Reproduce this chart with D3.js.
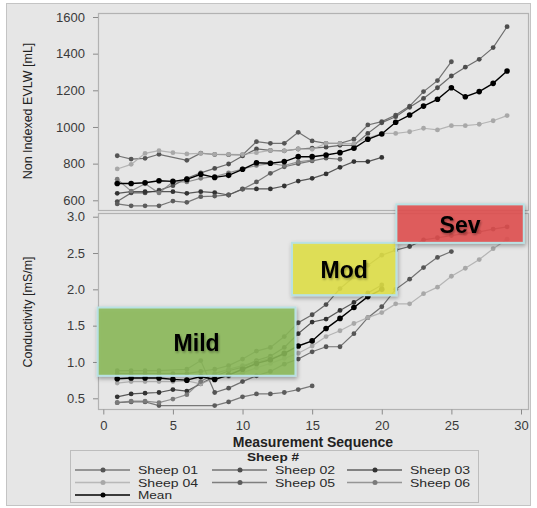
<!DOCTYPE html>
<html>
<head>
<meta charset="utf-8">
<script src="https://cdn.jsdelivr.net/npm/d3@7/dist/d3.min.js"></script>
<style>
body { margin: 0; background: #fff; }
text { font-family: "Liberation Sans", Arial, Helvetica, sans-serif; }
</style>
</head>
<body>
<script>
// ---------- data (x = measurement 1, 2, 3 ...; null = no point) ----------
var sheepNames = ["Sheep 01", "Sheep 02", "Sheep 03", "Sheep 04", "Sheep 05", "Sheep 06", "Mean"];
var sheepColors = ["#555", "#4d4d4d", "#333", "#a8a8a8", "#5c5c5c", "#7a7a7a", "#000"];

var evlw01 = [843, 825, 829, 851, null, 818, 857, 850, 849, 848, 920, 911, 911, 971, 924, 911, 911, 933, 1011, 1029, 1065, 1114, 1193, 1253, 1356];
var evlw02 = [593, 640, 640, 655, 680, 720, 750, 774, 798, 842, 880, 872, 870, 880, 885, 890, 900, 900, 965, 1023, 1056, 1107, 1156, 1214, 1278, 1326, 1369, 1433, 1547];
var evlw03 = [638, 647, 647, 647, 647, 638, 647, 642, 629, 662, 662, 662, 678, 705, 720, 744, 780, 811, 811, 834];
var evlw04 = [771, 796, 856, 871, 860, 853, 856, 851, 851, 850, 860, 872, 870, 880, 878, 911, 910, 910, 940, 965, 965, 974, 993, 984, 1007, 1007, 1015, 1034, 1062];
var evlw05 = [580, 570, 570, 570, 596, 589, 620, 623, 629, 660, 700, 747, 783, 800, 815, 830, 824];
var evlw06 = [715, 650, 690, 640, 700, 700, 720, 730, 750, 771, 790, 800, 790, 810, 820];
var evlwMean = [692, 692, 696, 707, 703, 714, 742, 725, 736, 769, 805, 802, 811, 838, 838, 847, 860, 884, 933, 962, 1026, 1065, 1114, 1151, 1214, 1165, 1193, 1238, 1305];

var cond01 = [0.88, 0.88, 0.88, 0.88, null, 0.90, 1.02, 0.58, 0.64, 0.73, 0.81, 0.87, 0.97, 1.04, 1.14, 1.21, 1.21, 1.39, 1.61, 1.76, 2.00, 2.14, 2.30, 2.44, 2.52];
var cond02 = [0.84, 0.84, 0.84, 0.84, 0.84, 0.84, 0.87, 0.90, 0.95, 1.04, 1.15, 1.20, 1.35, 1.54, 1.65, 1.79, 2.01, 2.17, 2.33, 2.47, 2.54, 2.59, 2.68, 2.71, 2.74, 2.77, 2.79, 2.83, 2.86];
var cond03 = [0.52, 0.56, 0.57, 0.58, 0.62, 0.60, 0.70, 0.80, 0.88, 0.93, 1.02, 1.08, 1.20, 1.39, 1.55, 1.59, 1.71, 1.82, 1.95, 2.06];
var cond04 = [0.71, 0.73, 0.73, 0.73, 0.73, 0.74, 0.70, 0.78, 0.80, 0.85, 0.92, 0.98, 1.05, 1.12, 1.22, 1.35, 1.43, 1.53, 1.61, 1.68, 1.80, 1.80, 1.94, 2.03, 2.18, 2.29, 2.41, 2.56, 2.69];
var cond05 = [0.44, 0.45, 0.45, 0.40, null, null, null, 0.40, 0.45, 0.52, 0.56, 0.56, 0.58, 0.62, 0.67];
var cond06 = [0.44, 0.46, 0.46, 0.44, 0.49, 0.55, 0.73, 0.84, 0.90, 0.95, 1.00, 1.05, 1.10];
var condMean = [0.77, 0.78, 0.78, 0.78, 0.76, 0.75, 0.80, 0.76, 0.82, 0.90, 0.98, 1.03, 1.12, 1.22, 1.29, 1.46, 1.60, 1.75, 1.90, 2.00];

var xTicks = [0, 5, 10, 15, 20, 25, 30];
var evlwTicks = [600, 800, 1000, 1200, 1400, 1600];
var condTicks = [0.5, 1.0, 1.5, 2.0, 2.5, 3.0];

// severity zones: x from/to (measurement), y from/to (conductivity)
var zoneNames = ["Mild", "Mod", "Sev"];
var zoneColors = ["rgb(140,186,88)", "rgb(226,226,72)", "rgb(226,78,78)"];
var zoneX = [[-0.4, 13.8], [13.55, 21.05], [21.05, 30.2]];
var zoneY = [[0.81, 1.75], [1.92, 2.64], [2.64, 3.17]];

var evlwSeries = [evlw01, evlw02, evlw03, evlw04, evlw05, evlw06, evlwMean];
var condSeries = [cond01, cond02, cond03, cond04, cond05, cond06, condMean];

// ---------- layout ----------
var W = 537, H = 508;
var plotL = 98, plotR = 528;
var topT = 13, topB = 210;
var botT = 213, botB = 409;

var svg = d3.select("body").append("svg")
	.attr("width", W)
	.attr("height", H);

var defs = svg.append("defs");
defs.append("filter")
	.attr("id", "sombra")
	.attr("x", "-10%").attr("y", "-20%")
	.attr("width", "125%").attr("height", "150%")
	.append("feDropShadow")
	.attr("dx", 1).attr("dy", 2)
	.attr("stdDeviation", 2)
	.attr("flood-color", "#000")
	.attr("flood-opacity", 0.35);
defs.append("filter")
	.attr("id", "sombraTexto")
	.append("feDropShadow")
	.attr("dx", 1).attr("dy", 1.5)
	.attr("stdDeviation", 1)
	.attr("flood-color", "#000")
	.attr("flood-opacity", 0.35);

svg.append("rect")
	.attr("x", 6.5).attr("y", 3.5)
	.attr("width", 524).attr("height", 502)
	.attr("fill", "#e6e6e6")
	.attr("stroke", "#c4c4c4");

var xScale = d3.scaleLinear().domain([0, 30]).range([103.3, 521]);
var yTop = d3.scaleLinear().domain([600, 1600]).range([200.3, 17]);
var yBot = d3.scaleLinear().domain([0.5, 3.0]).range([398.3, 216.7]);

// ---------- frames and axes ----------
[[topT, topB], [botT, botB]].forEach(function (p) {
	svg.append("rect")
		.attr("x", plotL + 0.5).attr("y", p[0] + 0.5)
		.attr("width", plotR - plotL).attr("height", p[1] - p[0])
		.attr("fill", "none")
		.attr("stroke", "#b2b2b2")
		.attr("stroke-width", 1.2);
});

function estiloEje(g) {
	g.select(".domain").remove();
	g.selectAll(".tick line").attr("stroke", "#8a8a8a");
	g.selectAll(".tick text")
		.attr("fill", "#3a3a3a")
		.style("font-size", "13px")
		.style("font-family", "'Liberation Sans', Arial, sans-serif");
}

svg.append("g")
	.attr("transform", "translate(" + plotL + ",0)")
	.call(d3.axisLeft(yTop).tickValues(evlwTicks).tickSize(5).tickPadding(8).tickFormat(d3.format("d")))
	.call(estiloEje);

svg.append("g")
	.attr("transform", "translate(" + plotL + ",0)")
	.call(d3.axisLeft(yBot).tickValues(condTicks).tickSize(5).tickPadding(8).tickFormat(d3.format(".1f")))
	.call(estiloEje);

svg.append("g")
	.attr("transform", "translate(0," + (botB + 0.5) + ")")
	.call(d3.axisBottom(xScale).tickValues(xTicks).tickSize(5).tickPadding(6))
	.call(estiloEje);

svg.append("text")
	.attr("transform", "translate(32,111) rotate(-90)")
	.attr("text-anchor", "middle")
	.attr("font-size", "12.5px")
	.attr("fill", "#222")
	.text("Non Indexed EVLW [mL]");

svg.append("text")
	.attr("transform", "translate(32,312) rotate(-90)")
	.attr("text-anchor", "middle")
	.attr("font-size", "12.5px")
	.attr("fill", "#222")
	.text("Conductivity [mS/m]");

svg.append("text")
	.attr("x", 313).attr("y", 447)
	.attr("text-anchor", "middle")
	.attr("font-size", "14px")
	.attr("font-weight", "bold")
	.attr("fill", "#222")
	.text("Measurement Sequence");

// ---------- lines ----------
function dibujarSeries(lista, yScale) {
	lista.forEach(function (vals, k) {
		var pts = vals.map(function (v, i) { return { x: i + 1, v: v }; })
			.filter(function (d) { return d.v != null; });
		var esMedia = sheepNames[k] == "Mean";
		var linea = d3.line()
			.x(function (d) { return xScale(d.x); })
			.y(function (d) { return yScale(d.v); });
		svg.append("path")
			.datum(pts)
			.attr("d", linea)
			.attr("fill", "none")
			.attr("stroke", sheepColors[k])
			.attr("stroke-opacity", esMedia ? 1 : 0.8)
			.attr("stroke-width", esMedia ? 1.4 : 1.2);
		svg.append("g").selectAll("circle")
			.data(pts)
			.enter()
			.append("circle")
			.attr("cx", function (d) { return xScale(d.x); })
			.attr("cy", function (d) { return yScale(d.v); })
			.attr("r", esMedia ? 2.8 : 2.4)
			.attr("fill", sheepColors[k]);
	});
}

// mean is the last series so it sits on top
dibujarSeries(evlwSeries, yTop);
dibujarSeries(condSeries, yBot);

// ---------- severity zones ----------
zoneNames.forEach(function (nombre, k) {
	var x0 = xScale(zoneX[k][0]), x1 = xScale(zoneX[k][1]);
	var y0 = yBot(zoneY[k][1]), y1 = yBot(zoneY[k][0]);
	svg.append("rect")
		.attr("x", x0).attr("y", y0)
		.attr("width", x1 - x0).attr("height", y1 - y0)
		.attr("fill", zoneColors[k])
		.attr("fill-opacity", 0.86)
		.attr("stroke", "#b9e1e3")
		.attr("stroke-width", 2)
		.attr("filter", "url(#sombra)");
	svg.append("text")
		.attr("x", (x0 + x1) / 2)
		.attr("y", (y0 + y1) / 2 + 9)
		.attr("text-anchor", "middle")
		.attr("font-size", "23px")
		.attr("font-weight", "bold")
		.attr("fill", "#000")
		.attr("filter", "url(#sombraTexto)")
		.text(nombre);
});

// ---------- legend ----------
var leg = svg.append("g");
leg.append("rect")
	.attr("x", 70.5).attr("y", 450.5)
	.attr("width", 408).attr("height", 52)
	.attr("fill", "none")
	.attr("stroke", "#bdbdbd");
leg.append("text")
	.attr("x", 273).attr("y", 460.5)
	.attr("text-anchor", "middle")
	.attr("font-size", "11.5px")
	.attr("font-weight", "bold")
	.attr("textLength", 52)
	.attr("lengthAdjust", "spacingAndGlyphs")
	.attr("fill", "#222")
	.text("Sheep #");

var colX = [75, 212, 347];
var rowY = [470, 482.5, 495];
sheepNames.forEach(function (nombre, k) {
	var cx = colX[k % 3], cy = rowY[Math.floor(k / 3)];
	leg.append("line")
		.attr("x1", cx).attr("x2", cx + 55)
		.attr("y1", cy).attr("y2", cy)
		.attr("stroke", sheepColors[k])
		.attr("stroke-opacity", nombre == "Mean" ? 1 : 0.75)
		.attr("stroke-width", 1.3);
	leg.append("circle")
		.attr("cx", cx + 28).attr("cy", cy)
		.attr("r", 2.5)
		.attr("fill", sheepColors[k]);
	leg.append("text")
		.attr("x", cx + 63).attr("y", cy + 4)
		.attr("font-size", "11.5px")
		.attr("textLength", nombre == "Mean" ? 34 : 60)
		.attr("lengthAdjust", "spacingAndGlyphs")
		.attr("fill", "#2a2a2a")
		.text(nombre);
});
</script>
</body>
</html>
